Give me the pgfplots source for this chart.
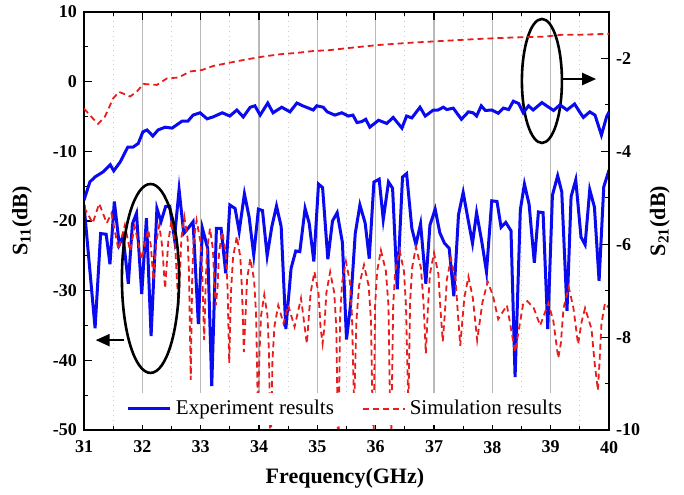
\documentclass[border=0pt]{standalone}
\usepackage{fontspec}
\setmainfont{Liberation Serif}
\usepackage{pgfplots}
\pgfplotsset{compat=1.18}
\usetikzlibrary{arrows.meta}

\definecolor{expblue}{RGB}{10,10,240}
\definecolor{simred}{RGB}{232,30,30}

\begin{document}
\begin{tikzpicture}
\pgfplotsset{
  every axis/.append style={
    scale only axis, width=262.5pt, height=209pt,
    xmin=31, xmax=40,
    tick align=inside,
    major tick length=4pt, minor tick length=2pt,
    every tick/.style={black, line width=0.6pt},
    axis line style={line width=0.8pt},
    /pgf/number format/assume math mode=true,
    tick label style={font=\fontsize{9}{10}\selectfont\bfseries},
  },
}
% S11, left axis
\begin{axis}[name=ax,
  ymin=-50, ymax=10, ytick={-50,-40,...,10}, minor y tick num=1,
  xtick={31,...,40}, minor x tick num=1,
  xtick pos=both, xticklabel pos=lower, ytick pos=left,
  xticklabel style={yshift=-2pt},
  xmajorgrids, xminorgrids,
  major x grid style={gray!55, line width=0.6pt},
  minor x grid style={gray!40, dotted, line width=0.6pt},
  xlabel={\textbf{Frequency(GHz)}}, ylabel={\textbf{S\textsubscript{11}(dB)}},
  every axis x label/.style={at={(axis description cs:0.497,-0.115)}, anchor=center,
    font=\fontsize{11}{13}\selectfont\bfseries},
  every axis y label/.style={at={(axis description cs:-0.118,0.5)}, rotate=90, anchor=center,
    font=\fontsize{11}{13}\selectfont\bfseries},
  legend columns=2,
  legend image code/.code={\draw[#1] (0pt,0pt) -- (21pt,0pt);},
  legend style={at={(0.5,0.012)}, anchor=south, draw=none, fill=white,
    inner sep=1.5pt, font=\fontsize{10.5}{12}\selectfont,
    /tikz/every even column/.append style={column sep=12pt}},
]
\addplot[expblue, line width=1.5pt] coordinates {
(31.00,-17.7)(31.19,-35.4)(31.285,-21.8)(31.38,-21.9)(31.445,-26.2)(31.52,-17.2)
(31.605,-23.4)(31.67,-22.2)(31.76,-29.0)(31.83,-20.4)(31.90,-18.9)(31.99,-30.5)
(32.07,-19.6)(32.15,-36.5)(32.25,-18.2)(32.32,-20.1)(32.40,-17.9)(32.47,-17.9)
(32.55,-22.5)(32.63,-15.5)(32.71,-21.8)(32.79,-21.0)(32.87,-20.1)(32.96,-34.8)
(33.03,-21.05)(33.12,-23.9)(33.19,-43.7)(33.27,-21.05)(33.35,-21.05)(33.43,-27.5)
(33.50,-17.7)(33.59,-18.2)(33.66,-21.5)(33.75,-16.1)(33.83,-19.4)(33.91,-24.9)
(33.99,-18.3)(34.06,-18.5)(34.14,-25.0)(34.22,-20.8)(34.30,-17.85)(34.38,-20.8)
(34.46,-35.5)(34.55,-26.8)(34.63,-24.3)(34.70,-24.4)(34.79,-18.2)(34.86,-20.3)
(34.94,-25.8)(35.02,-14.7)(35.09,-15.2)(35.18,-25.5)(35.26,-20.0)(35.34,-18.8)
(35.43,-23.1)(35.50,-37.0)(35.57,-32.0)(35.65,-21.8)(35.73,-17.7)(35.82,-20.3)
(35.89,-25.4)(35.97,-14.4)(36.06,-14.0)(36.13,-19.8)(36.22,-14.4)(36.29,-15.3)
(36.37,-29.8)(36.46,-13.7)(36.53,-13.2)(36.62,-21.05)(36.69,-23.4)(36.77,-20.4)
(36.86,-29.0)(36.93,-20.6)(37.02,-18.3)(37.10,-21.7)(37.18,-23.2)(37.26,-23.9)
(37.34,-30.8)(37.42,-19.1)(37.50,-15.9)(37.58,-19.6)(37.66,-23.2)(37.73,-18.8)
(37.82,-23.0)(37.90,-27.3)(37.99,-17.1)(38.08,-17.2)(38.15,-20.9)(38.23,-20.2)
(38.32,-21.4)(38.39,-42.4)(38.48,-18.4)(38.55,-14.7)(38.63,-17.6)(38.72,-26.0)
(38.79,-18.7)(38.87,-18.8)(38.95,-35.5)(39.03,-16.3)(39.12,-13.5)(39.19,-15.8)
(39.28,-32.9)(39.35,-16.5)(39.43,-14.1)(39.52,-22.3)(39.59,-23.4)(39.67,-15.5)
(39.75,-18.0)(39.83,-28.6)(39.91,-15.1)(40.00,-12.7)
};
\addlegendentry{Experiment results}
\addplot[simred, line width=0.9pt, dash pattern=on 3pt off 2pt] coordinates {
(31.00,-18.0)(31.15,-20.3)(31.26,-17.5)(31.39,-20.3)(31.47,-18.9)(31.59,-24.1)
(31.70,-20.6)(31.79,-24.3)(31.87,-20.8)(31.99,-25.5)(32.10,-21.2)(32.145,-23.5)
(32.19,-28.5)(32.24,-23.0)(32.29,-20.6)(32.34,-23.6)(32.39,-29.7)(32.445,-23.0)
(32.50,-19.9)(32.56,-22.9)(32.59,-27.9)(32.62,-32.1)(32.645,-27.4)(32.67,-22.4)
(32.72,-19.4)(32.775,-22.4)(32.80,-27.4)(32.83,-42.8)(32.855,-27.9)(32.88,-22.9)
(32.93,-19.9)(32.995,-22.9)(33.03,-27.9)(33.06,-37.1)(33.085,-29.05)(33.11,-24.05)
(33.16,-21.05)(33.21,-24.05)(33.235,-29.05)(33.26,-32.1)(33.29,-29.5)(33.315,-24.5)
(33.37,-21.5)(33.43,-24.5)(33.46,-29.5)(33.49,-40.4)(33.52,-30.2)(33.555,-25.2)
(33.62,-22.2)(33.68,-25.2)(33.71,-30.2)(33.74,-38.8)(33.77,-33.4)(33.795,-28.4)
(33.85,-25.4)(33.915,-28.4)(33.95,-33.4)(33.98,-47.0)(34.01,-38.6)(34.035,-33.6)
(34.09,-30.6)(34.145,-33.6)(34.17,-38.6)(34.20,-55.0)(34.23,-40.1)(34.265,-35.1)
(34.33,-32.1)(34.42,-34.7)(34.50,-32.1)(34.61,-35.2)(34.72,-31.1)(34.82,-37.6)
(34.885,-30.3)(34.95,-27.3)(35.02,-30.3)(35.055,-35.3)(35.09,-37.6)(35.12,-35.3)
(35.155,-30.3)(35.22,-27.3)(35.29,-30.3)(35.325,-35.3)(35.36,-55.0)(35.39,-33.8)
(35.425,-28.8)(35.49,-25.8)(35.56,-28.8)(35.595,-33.8)(35.63,-47.0)(35.67,-34.3)
(35.715,-29.3)(35.80,-26.3)(35.88,-29.3)(35.92,-34.3)(35.96,-55.0)(35.99,-32.2)
(36.025,-27.2)(36.09,-24.2)(36.175,-27.2)(36.22,-32.2)(36.26,-55.0)(36.30,-32.2)
(36.335,-27.2)(36.41,-24.2)(36.485,-27.2)(36.52,-32.2)(36.56,-47.0)(36.59,-31.7)
(36.625,-26.7)(36.69,-23.7)(36.775,-26.7)(36.82,-31.7)(36.86,-39.0)(36.895,-32.6)
(36.93,-27.6)(37.00,-24.6)(37.075,-27.6)(37.11,-32.6)(37.15,-37.3)(37.185,-33.4)
(37.22,-28.4)(37.29,-25.4)(37.37,-28.4)(37.41,-33.4)(37.45,-37.9)(37.52,-31.0)
(37.59,-28.0)(37.665,-31.0)(37.74,-37.1)(37.83,-31.7)(37.92,-28.7)(38.01,-30.7)
(38.10,-34.1)(38.25,-32.1)(38.39,-38.8)(38.53,-31.8)(38.60,-31.5)(38.71,-32.5)
(38.82,-35.0)(38.96,-31.8)(39.045,-34.3)(39.13,-39.7)(39.175,-37.5)(39.22,-32.5)
(39.31,-29.5)(39.39,-32.5)(39.47,-37.7)(39.53,-34.5)(39.59,-32.5)(39.70,-35.5)
(39.755,-40.5)(39.81,-44.3)(39.84,-39.8)(39.87,-34.8)(39.93,-31.8)(40.00,-32.5)
};
\addlegendentry{Simulation results}
\draw[line width=1.3pt] (axis cs:32.14,-28.25) ellipse [x radius=0.49, y radius=13.56];
\draw[line width=1.3pt] (axis cs:38.85,0.1) ellipse [x radius=0.343, y radius=8.9];
\draw[line width=1.1pt, -{Triangle[length=7pt,width=6pt]}] (axis cs:31.68,-37.1) -- (axis cs:31.20,-37.1);
\draw[line width=1.1pt, -{Triangle[length=7pt,width=6pt]}] (axis cs:39.19,0.38) -- (axis cs:39.78,0.38);
\end{axis}
% S21, right axis
\begin{axis}[
  ymin=-10, ymax=-1, ytick={-10,-8,...,-2}, minor y tick num=1,
  xtick=\empty, ytick pos=right, yticklabel pos=right,
  ylabel={\textbf{S\textsubscript{21}(dB)}},
  every axis y label/.style={at={(axis description cs:1.097,0.5)}, rotate=90, anchor=center,
    font=\fontsize{11}{13}\selectfont\bfseries},
]
\addplot[expblue, line width=1.5pt] coordinates {
(31.00,-5.05)(31.10,-4.66)(31.19,-4.55)(31.33,-4.44)(31.45,-4.29)(31.51,-4.42)
(31.62,-4.23)(31.75,-3.91)(31.84,-3.91)(31.93,-3.83)(32.01,-3.58)(32.08,-3.54)
(32.18,-3.67)(32.27,-3.54)(32.39,-3.48)(32.51,-3.50)(32.59,-3.43)(32.68,-3.35)
(32.78,-3.35)(32.87,-3.22)(32.99,-3.17)(33.11,-3.30)(33.21,-3.26)(33.37,-3.17)
(33.50,-3.24)(33.62,-3.11)(33.73,-3.26)(33.85,-3.05)(33.93,-3.02)(34.02,-3.22)
(34.15,-2.96)(34.24,-3.17)(34.39,-3.05)(34.53,-3.15)(34.65,-2.96)(34.75,-3.02)
(34.93,-3.11)(34.99,-3.02)(35.10,-3.05)(35.17,-3.15)(35.30,-3.22)(35.42,-3.17)
(35.53,-3.24)(35.61,-3.22)(35.68,-3.38)(35.76,-3.36)(35.83,-3.31)(35.90,-3.48)
(36.05,-3.33)(36.19,-3.40)(36.30,-3.27)(36.45,-3.50)(36.53,-3.24)(36.62,-3.28)
(36.76,-3.05)(36.85,-3.24)(36.99,-3.11)(37.07,-3.11)(37.16,-3.05)(37.22,-3.10)
(37.33,-3.07)(37.47,-3.31)(37.59,-3.15)(37.67,-3.17)(37.73,-3.24)(37.81,-3.02)
(37.88,-3.12)(37.99,-3.11)(38.10,-3.18)(38.19,-3.07)(38.28,-3.10)(38.36,-2.92)
(38.45,-2.97)(38.53,-3.17)(38.62,-3.02)(38.70,-3.11)(38.85,-2.95)(38.93,-3.02)
(39.05,-3.12)(39.16,-3.00)(39.28,-3.11)(39.41,-2.98)(39.48,-3.12)(39.56,-3.27)
(39.67,-3.15)(39.76,-3.22)(39.87,-3.65)(39.96,-3.25)(40.00,-3.15)
};
\addplot[simred, line width=0.9pt, dash pattern=on 3pt off 2pt] coordinates {
(31.00,-3.08)(31.10,-3.22)(31.24,-3.41)(31.36,-3.25)(31.50,-2.86)(31.60,-2.72)
(31.70,-2.77)(31.79,-2.82)(31.90,-2.72)(32.02,-2.55)(32.25,-2.57)(32.42,-2.43)
(32.62,-2.41)(32.82,-2.28)(33.02,-2.25)(33.22,-2.16)(33.50,-2.09)(33.79,-2.02)
(34.07,-1.96)(34.36,-1.91)(34.65,-1.88)(34.93,-1.84)(35.22,-1.82)(35.50,-1.78)
(36.05,-1.71)(36.62,-1.66)(37.19,-1.62)(37.76,-1.58)(38.33,-1.55)(38.90,-1.53)
(39.19,-1.49)(39.48,-1.49)(40.00,-1.47)
};
\end{axis}
\pgfresetboundingbox
\path ([xshift=-42pt,yshift=-32pt]ax.south west) rectangle ([xshift=37.5pt,yshift=6pt]ax.north east);
\end{tikzpicture}
\end{document}
